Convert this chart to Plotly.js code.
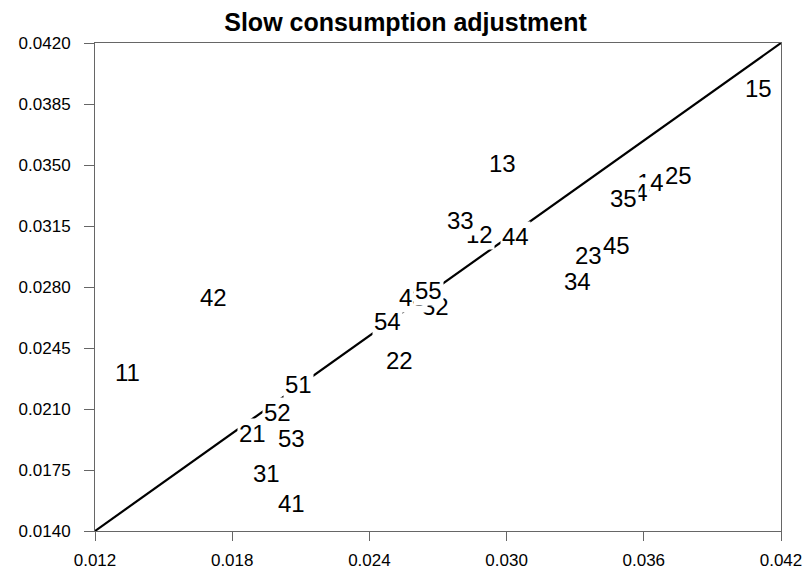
<!DOCTYPE html>
<html>
<head>
<meta charset="utf-8">
<script src="https://cdn.plot.ly/plotly-3.0.1.min.js"></script>
<style>html,body{margin:0;padding:0;background:#fff;}#chart{width:811px;height:573px;}</style>
</head>
<body>
<div id="chart"></div>
<script>
// Point labels (row-column codes), drawn in this order
var labels = ["11","12","13","14","15","21","22","23","24","25","31","32","33","34","35","41","42","43","44","45","51","52","53","54","55"];
var xValues = [0.0134,0.0288,0.0298,0.0363,0.0410,0.0189,0.0253,0.0336,0.0356,0.0375,0.0195,0.0269,0.0280,0.0331,0.0351,0.0206,0.0172,0.0259,0.0304,0.0348,0.0209,0.0200,0.0206,0.0248,0.0266];
var yValues = [0.0231,0.0310,0.0351,0.0340,0.0394,0.0196,0.0238,0.0298,0.0334,0.0344,0.0173,0.0269,0.0318,0.0283,0.0331,0.0156,0.0274,0.0274,0.0309,0.0304,0.0224,0.0208,0.0193,0.0260,0.0278];
// 45-degree reference line endpoints
var diagX = [0.012, 0.042];
var diagY = [0.014, 0.042];
var xTickStart = 0.012, xTickStep = 0.006;
var yTickStart = 0.014, yTickStep = 0.0035;

var font = "Liberation Sans, Arial, sans-serif";

var traces = [{
  x: diagX, y: diagY, mode: "lines", type: "scatter",
  line: {color: "#000", width: 2.2}, hoverinfo: "skip", showlegend: false
}];

var annotations = labels.map(function(t, i){
  return {
    x: xValues[i], y: yValues[i], xref: "x", yref: "y",
    text: t, showarrow: false, bgcolor: "#fff", borderpad: 1,
    font: {family: font, size: 24, color: "#000"},
    xanchor: "center", yanchor: "middle"
  };
});

var layout = {
  width: 811, height: 573,
  margin: {l: 95, r: 30, t: 43, b: 42},
  paper_bgcolor: "#fff", plot_bgcolor: "#fff",
  showlegend: false,
  title: {text: "<b>Slow consumption adjustment</b>", x: 0.5, xref: "container", xanchor: "center",
          y: 1 - 22/573, yref: "container", yanchor: "middle",
          font: {family: font, size: 25, color: "#000"}},
  xaxis: {range: [0.012, 0.042], tick0: xTickStart, dtick: xTickStep, tickformat: ".3f",
          showgrid: false, zeroline: false, showline: true, mirror: true, linecolor: "#666", linewidth: 1,
          ticks: "outside", ticklen: 9, tickcolor: "#666", ticklabelstandoff: 5,
          tickfont: {family: font, size: 17, color: "#000"}},
  yaxis: {range: [0.014, 0.042], tick0: yTickStart, dtick: yTickStep, tickformat: ".4f",
          showgrid: false, zeroline: false, showline: true, mirror: true, linecolor: "#666", linewidth: 1,
          ticks: "outside", ticklen: 10, tickcolor: "#666", ticklabelstandoff: 10,
          tickfont: {family: font, size: 17, color: "#000"}},
  annotations: annotations
};

Plotly.newPlot("chart", traces, layout, {staticPlot: true, displayModeBar: false});
</script>
</body>
</html>
